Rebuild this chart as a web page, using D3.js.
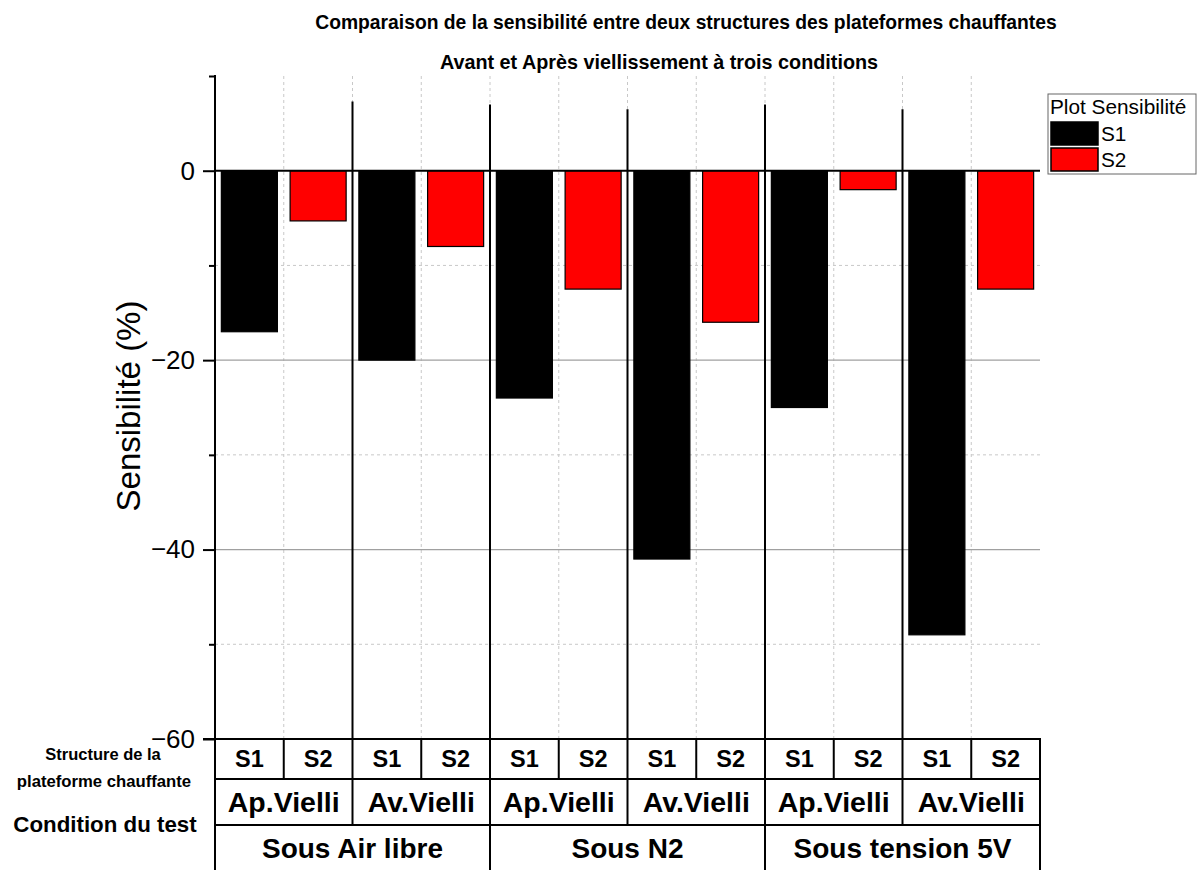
<!DOCTYPE html>
<html><head><meta charset="utf-8">
<script src="https://cdn.jsdelivr.net/npm/d3@7"></script>
<style>body{margin:0;background:#fff}svg{display:block}text{font-family:"Liberation Sans",Arial,sans-serif}</style>
</head><body>
<svg id="c" width="1201" height="870"></svg>
<script>
// ---- data ----
const conditions = ["Sous Air libre", "Sous N2", "Sous tension 5V"];
const ageing = ["Ap.Vielli", "Av.Vielli"];
const structures = ["S1", "S2"];
const s1Values = [-17, -20, -24, -41, -25, -49];
const s2Values = [-5.3, -8, -12.5, -16, -2, -12.5];
const yTicksMajor = [0, -20, -40, -60];
const yTicksMinor = [10, -10, -30, -50];
const titleLines = ["Comparaison de la sensibilité entre deux structures des plateformes chauffantes",
                    "Avant et Après viellissement à trois conditions"];
const yTitle = "Sensibilité (%)";
const legendTitle = "Plot Sensibilité";
const rowLabels = ["Structure de la", "plateforme chauffante", "Condition du test"];
const seriesColors = {S1: "#000000", S2: "#ff0000"};

// build cells
const cells = [];
conditions.forEach((c, ci) => ageing.forEach((a, ai) => structures.forEach((s) => {
  const gi = ci * 2 + ai;
  cells.push({id: `${ci}-${ai}-${s}`, cond: c, age: a, struct: s, value: s === "S1" ? s1Values[gi] : s2Values[gi]});
})));

const svg = d3.select("#c");
const L = 215, R = 1040;
const x = d3.scaleBand().domain(cells.map(d => d.id)).range([L, R]).paddingInner(0.185).paddingOuter(0.0925);
const y = d3.scaleLinear().domain([-60, 10]).range([739, 76]);
const step = x.step();
const cellLeft = i => L + i * step;

// grid
const g = svg.append("g");
d3.range(1, cells.length).forEach(i => {
  g.append("line").attr("x1", cellLeft(i)).attr("x2", cellLeft(i)).attr("y1", y(10)).attr("y2", y(-60))
    .attr("stroke", "#c8c8c8").attr("stroke-width", 1).attr("stroke-dasharray", "3,3");
});
[-20, -40].forEach(v => g.append("line").attr("x1", L).attr("x2", R).attr("y1", y(v)).attr("y2", y(v))
  .attr("stroke", "#a0a0a0").attr("stroke-width", 1.2));
[-10, -30, -50].forEach(v => g.append("line").attr("x1", L).attr("x2", R).attr("y1", y(v)).attr("y2", y(v))
  .attr("stroke", "#c8c8c8").attr("stroke-width", 1).attr("stroke-dasharray", "3,3"));

// bars
svg.append("g").selectAll("rect").data(cells).join("rect")
  .attr("x", d => x(d.id)).attr("width", x.bandwidth())
  .attr("y", d => y(Math.max(0, d.value))).attr("height", d => Math.abs(y(d.value) - y(0)))
  .attr("fill", d => seriesColors[d.struct]).attr("stroke", "#000").attr("stroke-width", 1.2);

// zero line
svg.append("line").attr("x1", L).attr("x2", R).attr("y1", y(0)).attr("y2", y(0)).attr("stroke", "#000").attr("stroke-width", 2);

// group separators in plot
d3.range(2, cells.length, 2).forEach(i => {
  const top = (i === 2) ? 7.3 : (i % 4 === 0) ? 7.0 : 6.5;
  svg.append("line").attr("x1", cellLeft(i)).attr("x2", cellLeft(i)).attr("y1", y(top)).attr("y2", y(-60))
    .attr("stroke", "#000").attr("stroke-width", 2);
});

// y axis
const yAxis = d3.axisLeft(y).tickValues(yTicksMajor).tickSize(12).tickPadding(8).tickFormat(d3.format("d"));
const ya = svg.append("g").attr("transform", `translate(${L},0)`).call(yAxis);
ya.select(".domain").remove();
ya.selectAll(".tick line").attr("stroke", "#000").attr("stroke-width", 2);
ya.selectAll(".tick text").attr("font-size", 26).attr("fill", "#000").attr("font-family", "Liberation Sans, Arial, sans-serif");
const yMinor = d3.axisLeft(y).tickValues(yTicksMinor).tickSize(6).tickFormat("");
const ym = svg.append("g").attr("transform", `translate(${L},0)`).call(yMinor);
ym.select(".domain").remove();
ym.selectAll(".tick line").attr("stroke", "#000").attr("stroke-width", 2);
svg.append("line").attr("x1", L).attr("x2", L).attr("y1", y(10) - 1).attr("y2", 870).attr("stroke", "#000").attr("stroke-width", 2);

svg.append("text").attr("transform", `translate(140,406) rotate(-90)`).attr("text-anchor", "middle")
  .attr("font-size", 33).text(yTitle);

// titles
svg.append("text").attr("x", 686).attr("y", 29).attr("text-anchor", "middle").attr("font-size", 19.3).attr("font-weight", "bold").text(titleLines[0]);
svg.append("text").attr("x", 659).attr("y", 69).attr("text-anchor", "middle").attr("font-size", 19.8).attr("font-weight", "bold").text(titleLines[1]);

// table
const T0 = y(-60), T1 = 779, T2 = 825, T3 = 870;
const tl = svg.append("g").attr("stroke", "#000").attr("stroke-width", 2);
tl.append("line").attr("x1", L - 12).attr("x2", R + 1).attr("y1", T0).attr("y2", T0);
[T1, T2].forEach(yy => tl.append("line").attr("x1", L).attr("x2", R).attr("y1", yy).attr("y2", yy));
tl.append("line").attr("x1", R).attr("x2", R).attr("y1", T0).attr("y2", T3);
d3.range(1, cells.length).forEach(i => {
  const bottom = (i % 4 === 0) ? T3 : (i % 2 === 0 ? T2 : T1);
  tl.append("line").attr("x1", cellLeft(i)).attr("x2", cellLeft(i)).attr("y1", T0).attr("y2", bottom);
});
const tt = svg.append("g").attr("font-weight", "bold").attr("text-anchor", "middle");
cells.forEach((d, i) => tt.append("text").attr("x", x(d.id) + x.bandwidth() / 2).attr("y", 767).attr("font-size", 23.5).text(d.struct));
d3.range(conditions.length * ageing.length).forEach(k => {
  tt.append("text").attr("x", cellLeft(k * 2 + 1)).attr("y", 812).attr("font-size", 28.5).text(ageing[k % 2]);
});
conditions.forEach((c, k) => tt.append("text").attr("x", cellLeft(k * 4 + 2)).attr("y", 858).attr("font-size", 28).text(c));

tt.append("text").attr("x", 103).attr("y", 760).attr("font-size", 16.5).text(rowLabels[0]);
tt.append("text").attr("x", 104).attr("y", 787).attr("font-size", 16.7).text(rowLabels[1]);
tt.append("text").attr("x", 105).attr("y", 832).attr("font-size", 22.3).text(rowLabels[2]);

// legend
const lg = svg.append("g");
lg.append("rect").attr("x", 1048).attr("y", 94).attr("width", 148).attr("height", 80).attr("fill", "#fff").attr("stroke", "#666").attr("stroke-width", 1);
lg.append("text").attr("x", 1050).attr("y", 114).attr("font-size", 20.8).text(legendTitle);
structures.forEach((s, i) => {
  lg.append("rect").attr("x", 1051).attr("y", 122 + i * 26).attr("width", 47).attr("height", 23).attr("fill", seriesColors[s]).attr("stroke", "#000").attr("stroke-width", 1.5);
  lg.append("text").attr("x", 1101).attr("y", 141 + i * 26).attr("font-size", 20.8).text(s);
});
</script>
</body></html>
